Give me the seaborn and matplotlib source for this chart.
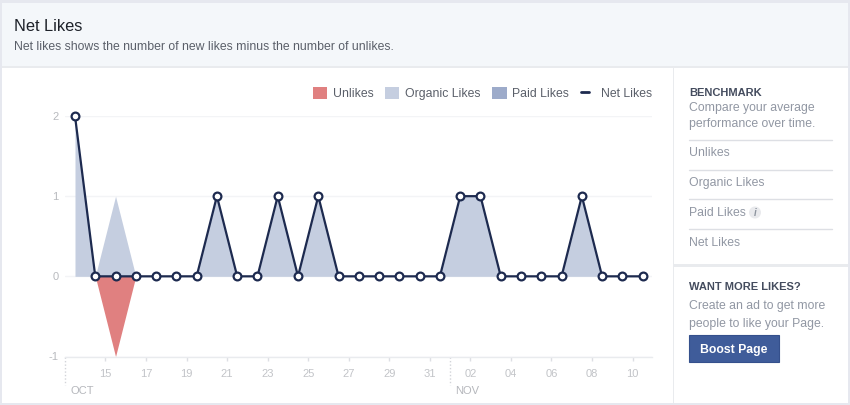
import matplotlib

matplotlib.use("Agg")
import matplotlib.pyplot as plt
import pandas as pd
import seaborn as sns
from matplotlib.legend_handler import HandlerLine2D
from matplotlib.lines import Line2D
from matplotlib.patches import Circle, Patch, Rectangle

DAY_INDEX = list(range(29))
NET_LIKES = [2, 0, 0, 0, 0, 0, 0, 1, 0, 0, 1, 0, 1, 0, 0, 0, 0, 0, 0, 1, 1, 0, 0, 0, 0, 1, 0, 0, 0]
ORGANIC_LIKES = [2, 0, 1, 0, 0, 0, 0, 1, 0, 0, 1, 0, 1, 0, 0, 0, 0, 0, 0, 1, 1, 0, 0, 0, 0, 1, 0, 0, 0]
PAID_LIKES = [0] * 29
UNLIKES = [0, 0, -1, 0, 0, 0, 0, 0, 0, 0, 0, 0, 0, 0, 0, 0, 0, 0, 0, 0, 0, 0, 0, 0, 0, 0, 0, 0, 0]

TICK_POSITIONS = [1.5, 3.5, 5.5, 7.5, 9.5, 11.5, 13.5, 15.5, 17.5, 19.5, 21.5, 23.5, 25.5, 27.5]
TICK_LABELS = ["15", "17", "19", "21", "23", "25", "27", "29", "31", "02", "04", "06", "08", "10"]
Y_TICKS = [-1, 0, 1, 2]
MONTH_STARTS = [-0.49, 18.5]
MONTH_LABELS = ["OCT", "NOV"]
BENCHMARK_ROWS = ["Unlikes", "Organic Likes", "Paid Likes", "Net Likes"]

RED = "#e08080"
ORGANIC = "#c5cee0"
PAID = "#9dabca"
NAVY = "#1d2a4f"
GREY = "#9197a3"
BORDER = "#e6e8ef"


class ShortLineHandler(HandlerLine2D):
    # the net likes key is shorter than the swatches
    def create_artists(self, legend, orig_handle, xdescent, ydescent, width, height, fontsize, trans):
        return super().create_artists(legend, orig_handle, xdescent, ydescent, width * 0.6, height, fontsize, trans)


df = pd.DataFrame({"day": DAY_INDEX, "net": NET_LIKES})

sns.set_theme(style="white")
plt.rcParams["font.family"] = ["Liberation Sans", "DejaVu Sans"]

fig = plt.figure(figsize=(8.5, 4.05), dpi=100)

# page furniture, in pixel coordinates of the screenshot
page = fig.add_axes([0, 0, 1, 1])
page.set_xlim(0, 850)
page.set_ylim(405, 0)
page.axis("off")
page.add_patch(Rectangle((0, 0), 850, 405, fc=BORDER, ec="none"))
page.add_patch(Rectangle((2, 2.5), 846, 400.5, fc="white", ec="none"))
page.add_patch(Rectangle((2, 2.5), 846, 63.5, fc="#f4f7fa", ec="none"))
page.add_patch(Rectangle((2, 66), 846, 2, fc="#e9ebee", ec="none"))
page.add_patch(Rectangle((673, 68), 1, 335, fc="#e9ebee", ec="none"))
page.add_patch(Rectangle((674, 264), 174, 2.5, fc="#e9ebee", ec="none"))

page.text(14, 26.5, "Net Likes", fontsize=11.75, color="#1d2129", va="center")
page.text(14, 46.5, "Net likes shows the number of new likes minus the number of unlikes.",
          fontsize=8.85, color="#5a5f69", va="center")

page.text(689, 92.5, "BENCHMARK", fontsize=8.05, color="#444c5e", va="center", fontweight="bold")
page.text(689, 108, "Compare your average", fontsize=8.8, color=GREY, va="center")
page.text(689, 124, "performance over time.", fontsize=8.8, color=GREY, va="center")
for row, label in enumerate(BENCHMARK_ROWS):
    top = 140 + row * 29.7
    page.plot([689, 832], [top, top], color="#dddfe4", lw=1)
    page.text(689, top + 13.5, label, fontsize=8.8, color=GREY, va="center")
page.add_patch(Circle((755, 212.5), 6, fc="#e9eaed", ec="none"))
page.text(755, 212.5, "i", fontsize=7, color="#8d949e", ha="center", va="center",
          fontweight="bold", fontstyle="italic")

page.text(689, 287, "WANT MORE LIKES?", fontsize=8.05, color="#444c5e", va="center", fontweight="bold")
page.text(689, 306.5, "Create an ad to get more", fontsize=8.8, color=GREY, va="center")
page.text(689, 323.5, "people to like your Page.", fontsize=8.8, color=GREY, va="center")
page.add_patch(Rectangle((689.5, 334.5), 89.5, 27.5, fc="#3f5c9a", ec="#35508c", lw=0.8))
page.text(733.5, 349.5, "Boost Page", fontsize=8.8, color="white", ha="center", va="center", fontweight="bold")

# chart
ax = fig.add_axes([65 / 850, (405 - 356.5) / 405, 587 / 850, 240.5 / 405])
ax.patch.set_alpha(0)
ax.fill_between(DAY_INDEX, 0, ORGANIC_LIKES, color=ORGANIC, lw=0)
ax.fill_between(DAY_INDEX, 0, PAID_LIKES, color=PAID, lw=0)
ax.fill_between(DAY_INDEX, 0, UNLIKES, color=RED, lw=0)
sns.lineplot(
    data=df,
    x="day",
    y="net",
    ax=ax,
    color=NAVY,
    linewidth=1.6,
    marker="o",
    markersize=5.6,
    markerfacecolor="white",
    markeredgecolor=NAVY,
    markeredgewidth=1.6,
    estimator=None,
    clip_on=False,
    zorder=5,
)

ax.set_xlim(-0.493, 28.46)
ax.set_ylim(-1, 2)
ax.set_xlabel("")
ax.set_ylabel("")
ax.set_xticks(TICK_POSITIONS, TICK_LABELS)
ax.set_yticks(Y_TICKS, [str(v) for v in Y_TICKS])
ax.tick_params(axis="x", length=3, width=1, color="#dddfe4", labelsize=8, labelcolor="#c2c4c8", pad=6,
               bottom=True)
ax.tick_params(axis="y", length=0, labelsize=8, labelcolor="#b8babe", pad=4.5)
ax.grid(axis="y", color="#f3f4f6", lw=1)
ax.set_axisbelow(True)
sns.despine(ax=ax, left=True)
ax.spines["bottom"].set_color("#e9ebee")
ax.spines["bottom"].set_linewidth(1)

trans = ax.get_xaxis_transform()
for start, label in zip(MONTH_STARTS, MONTH_LABELS):
    ax.plot([start, start], [0, -0.12], transform=trans, color="#d2d4d9", lw=1, ls=(0, (1, 1.5)), clip_on=False)
    ax.text(start + 0.27, -0.143, label, transform=trans, fontsize=8, color="#b5b7bc", va="center")

net_key = Line2D([], [], color=NAVY, lw=2, label="Net Likes")
handles = [
    Patch(fc=RED, ec="none", label="Unlikes"),
    Patch(fc=ORGANIC, ec="none", label="Organic Likes"),
    Patch(fc=PAID, ec="none", label="Paid Likes"),
    net_key,
]
ax.legend(
    handles=handles,
    handler_map={net_key: ShortLineHandler()},
    ncol=4,
    frameon=False,
    loc="center right",
    bbox_to_anchor=(1.0, 1.095),
    borderaxespad=0,
    borderpad=0,
    fontsize=8.85,
    labelcolor="#5a5f69",
    handlelength=1.14,
    handleheight=1.14,
    handletextpad=0.48,
    columnspacing=0.95,
)

fig.savefig("out.png", dpi=100)
